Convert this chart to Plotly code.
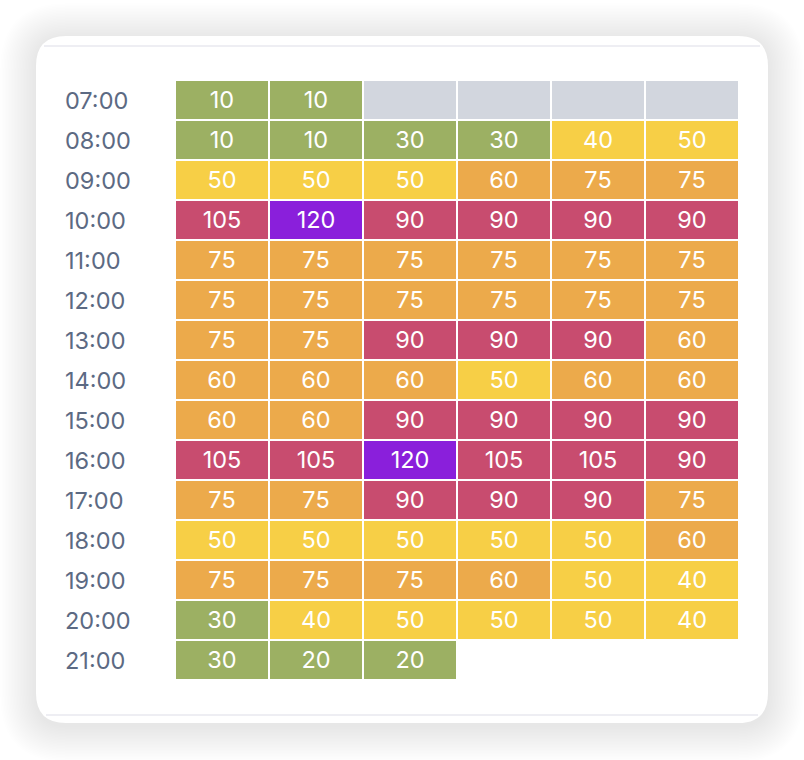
import plotly.graph_objects as go

# ---------------- data ----------------
times = ["07:00", "08:00", "09:00", "10:00", "11:00", "12:00", "13:00", "14:00",
         "15:00", "16:00", "17:00", "18:00", "19:00", "20:00", "21:00"]
columns = ["c1", "c2", "c3", "c4", "c5", "c6"]
# 0 = slot exists but empty (grey), None = no slot
values = [
    [10, 10, 0, 0, 0, 0],
    [10, 10, 30, 30, 40, 50],
    [50, 50, 50, 60, 75, 75],
    [105, 120, 90, 90, 90, 90],
    [75, 75, 75, 75, 75, 75],
    [75, 75, 75, 75, 75, 75],
    [75, 75, 90, 90, 90, 60],
    [60, 60, 60, 50, 60, 60],
    [60, 60, 90, 90, 90, 90],
    [105, 105, 120, 105, 105, 90],
    [75, 75, 90, 90, 90, 75],
    [50, 50, 50, 50, 50, 60],
    [75, 75, 75, 60, 50, 40],
    [30, 40, 50, 50, 50, 40],
    [30, 20, 20, None, None, None],
]
thresholds = [0, 30, 50, 75, 105, 1000]
palette = ["#d2d6de", "#9cb063", "#f7cf46", "#ecaa4b", "#c84c6f", "#8a1fdb"]

W, H = 804, 760
FONT = "Inter, sans-serif"


def category(v):
    if v is None:
        return None
    for i, t in enumerate(thresholds):
        if v <= t:
            return i
    return len(thresholds) - 1


z = [[category(v) for v in row] for row in values]
text = [["" if (v is None or v == 0) else str(v) for v in row] for row in values]

n = len(palette)
colorscale = []
for i, c in enumerate(palette):
    colorscale.append([i / n, c])
    colorscale.append([(i + 1) / n, c])

fig = go.Figure(go.Heatmap(
    z=z, x=columns, y=times, text=text,
    texttemplate="%{text}",
    textfont=dict(family=FONT, size=23.5, color="#ffffff"),
    colorscale=colorscale, zmin=-0.5, zmax=n - 0.5,
    showscale=False, xgap=2, ygap=2, hoverinfo="skip",
))


# ---------------- card & shadow ----------------
def px(x):
    return x / W


def py(y):
    return 1 - y / H


def rrect(x0, y0, x1, y1, r):
    return (f"M {px(x0 + r)},{py(y0)} L {px(x1 - r)},{py(y0)} "
            f"Q {px(x1)},{py(y0)} {px(x1)},{py(y0 + r)} "
            f"L {px(x1)},{py(y1 - r)} Q {px(x1)},{py(y1)} {px(x1 - r)},{py(y1)} "
            f"L {px(x0 + r)},{py(y1)} Q {px(x0)},{py(y1)} {px(x0)},{py(y1 - r)} "
            f"L {px(x0)},{py(y0 + r)} Q {px(x0)},{py(y0)} {px(x0 + r)},{py(y0)} Z")


shapes = []
cx0, cy0, cx1, cy1, R = 36, 36, 768, 723, 30
layers = 24
for i in range(layers, 0, -1):
    s = i * 1.5
    shapes.append(dict(type="path", xref="paper", yref="paper",
                       path=rrect(cx0 - s, cy0 - s + 3, cx1 + s, cy1 + s + 3, R + s),
                       fillcolor="rgba(0,0,0,0.0055)", line=dict(width=0), layer="below"))
shapes.append(dict(type="path", xref="paper", yref="paper",
                   path=rrect(cx0, cy0, cx1, cy1, R),
                   fillcolor="#ffffff", line=dict(width=0), layer="below"))
# separator lines
shapes.append(dict(type="line", xref="paper", yref="paper",
                   x0=px(44), x1=px(760), y0=py(46), y1=py(46),
                   line=dict(color="#eeeef3", width=2), layer="below"))
shapes.append(dict(type="line", xref="paper", yref="paper",
                   x0=px(46), x1=px(758), y0=py(715), y1=py(715),
                   line=dict(color="#eeeef3", width=2), layer="below"))

# row labels (left aligned)
annotations = [dict(x=px(63), y=t, xref="paper", yref="y", text=t, showarrow=False,
                    xanchor="left", yanchor="middle",
                    font=dict(family=FONT, size=23.5, color="#5c6a83"))
               for t in times]

fig.update_layout(
    width=W, height=H,
    margin=dict(l=0, r=0, t=0, b=0),
    paper_bgcolor="#ffffff", plot_bgcolor="rgba(0,0,0,0)",
    shapes=shapes, annotations=annotations,
    xaxis=dict(domain=[175 / W, 739 / W], showticklabels=False, showgrid=False,
               zeroline=False, ticks="", fixedrange=True),
    yaxis=dict(domain=[1 - 680 / H, 1 - 80 / H], autorange="reversed",
               showticklabels=False, showgrid=False, zeroline=False, ticks="",
               fixedrange=True),
)

fig.write_html("out.html")
